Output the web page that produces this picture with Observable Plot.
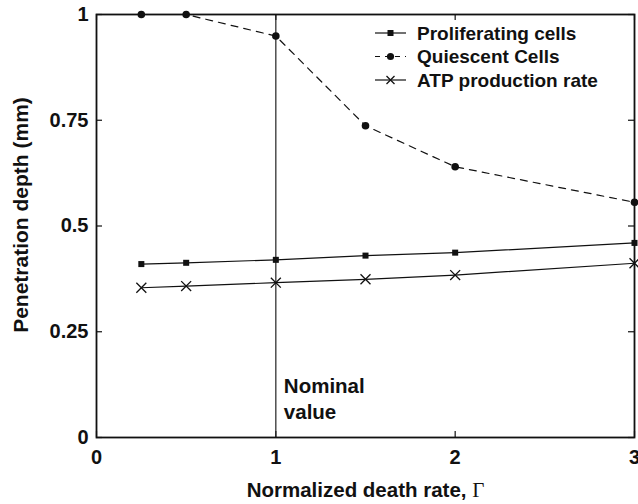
<!DOCTYPE html>
<html><head><meta charset="utf-8">
<script src="https://cdn.jsdelivr.net/npm/d3@7"></script>
<script src="https://cdn.jsdelivr.net/npm/@observablehq/plot@0.6"></script>
<style>
body{margin:0;background:#fff;}
svg{font-family:"Liberation Sans",Arial,sans-serif;}
</style></head>
<body><div id="chart"></div>
<script>
const gamma = [0.25, 0.5, 1, 1.5, 2, 3];
const proliferating = [0.410, 0.413, 0.420, 0.430, 0.437, 0.460];
const quiescent = [1.0, 1.0, 0.949, 0.737, 0.640, 0.556];
const atp = [0.354, 0.358, 0.366, 0.374, 0.384, 0.412];
const seriesNames = ["Proliferating cells", "Quiescent Cells", "ATP production rate"];
const xTicks = [0, 1, 2, 3];
const xTickLabels = ["0", "1", "2", "3"];
const yTicks = [0, 0.25, 0.5, 0.75, 1];
const yTickLabels = ["0", "0.25", "0.5", "0.75", "1"];
const nominal = [{x: 1, text: "Nominal\nvalue"}];
const xLabel = "Normalized death rate, ";
const yLabel = "Penetration depth (mm)";

const toRows = (vals) => gamma.map((g, i) => ({x: g, y: vals[i]}));
const P = toRows(proliferating), Q = toRows(quiescent), A = toRows(atp);

const W = 638, H = 504, ML = 96, MR = 4, MT = 14, MB = 67, TL = 6;
const innerW = W - ML - MR, innerH = H - MT - MB;

const chart = Plot.plot({
  width: W, height: H,
  marginLeft: ML, marginRight: MR, marginTop: MT, marginBottom: MB,
  style: {fontFamily: '"Liberation Sans", Arial, sans-serif', background: "#fff", color: "#111"},
  x: {domain: [0, 3], ticks: xTicks},
  y: {domain: [0, 1], ticks: yTicks},
  marks: [
    // inward tick marks on all four sides
    Plot.tickY(yTicks, {y: d => d, insetRight: innerW - TL, stroke: "#111", strokeWidth: 1.2}),
    Plot.tickY(yTicks, {y: d => d, insetLeft: innerW - TL, stroke: "#111", strokeWidth: 1.2}),
    Plot.tickX(xTicks, {x: d => d, insetTop: innerH - TL, stroke: "#111", strokeWidth: 1.2}),
    Plot.tickX(xTicks, {x: d => d, insetBottom: innerH - TL, stroke: "#111", strokeWidth: 1.2}),
    Plot.ruleX(nominal, {x: "x", stroke: "#222", strokeWidth: 1.2}),
    Plot.line(Q, {x: "x", y: "y", stroke: "#111", strokeWidth: 1.2, strokeDasharray: "7,6"}),
    Plot.line(P, {x: "x", y: "y", stroke: "#111", strokeWidth: 1.2}),
    Plot.line(A, {x: "x", y: "y", stroke: "#111", strokeWidth: 1.2}),
    Plot.dot(Q, {x: "x", y: "y", r: 3.8, fill: "#111", symbol: "circle"}),
    Plot.dot(P, {x: "x", y: "y", r: 3.4, fill: "#111", symbol: "square"}),
    Plot.dot(A, {x: "x", y: "y", r: 4.6, stroke: "#111", strokeWidth: 1.3, symbol: "times"}),
    Plot.frame({stroke: "#111", strokeWidth: 1.8}),
    Plot.axisY({anchor: "left", ticks: yTicks, tickFormat: (d, i) => yTickLabels[i], tickSize: 0, tickPadding: 8, fontSize: 20, fontWeight: "bold", label: null}),
    Plot.axisX({anchor: "bottom", ticks: xTicks, tickFormat: (d, i) => xTickLabels[i], tickSize: 0, tickPadding: 12, fontSize: 20, fontWeight: "bold", label: null}),
    Plot.text(nominal, {x: "x", text: "text", frameAnchor: "bottom", dx: 8, dy: -19, textAnchor: "start", lineAnchor: "bottom", fontSize: 20.5, fontWeight: "bold", fill: "#111", lineHeight: 1.25}),
    Plot.text([xLabel], {frameAnchor: "bottom", dy: 59, lineAnchor: "bottom", textAnchor: "middle", fontSize: 20.5, fontWeight: "bold", fill: "#111", className: "xlab"}),
    Plot.text([yLabel], {frameAnchor: "left", dx: -75, dy: -11, rotate: -90, textAnchor: "middle", fontSize: 21, fontWeight: "bold", fill: "#111"})
  ]
});

// add Gamma in serif to x label
d3.select(chart).selectAll(".xlab text").each(function() {
  d3.select(this).append("tspan").attr("font-family", '"Liberation Serif", "DejaVu Serif", serif').attr("font-weight", "normal").attr("font-size", 21).text("Γ");
});

// legend
const svg = d3.select(chart);
const lg = svg.append("g").attr("font-family", '"Liberation Sans", Arial, sans-serif').attr("font-weight", "bold").attr("font-size", 19).attr("fill", "#111").attr("text-anchor", "start");
const legendItems = [
  {name: seriesNames[0], dash: null, sym: "square"},
  {name: seriesNames[1], dash: "5,5", sym: "circle"},
  {name: seriesNames[2], dash: null, sym: "times"}
];
legendItems.forEach((it, i) => {
  const y = 33 + i * 23.5;
  lg.append("line").attr("x1", 375).attr("x2", 406).attr("y1", y).attr("y2", y).attr("stroke", "#111").attr("stroke-width", 1.2).attr("stroke-dasharray", it.dash);
  const cx = 390.5;
  if (it.sym === "square") lg.append("rect").attr("x", cx - 3).attr("y", y - 3).attr("width", 6).attr("height", 6).attr("fill", "#111");
  if (it.sym === "circle") lg.append("circle").attr("cx", cx).attr("cy", y).attr("r", 3.6).attr("fill", "#111");
  if (it.sym === "times") lg.append("path").attr("d", `M${cx-4},${y-4}L${cx+4},${y+4}M${cx-4},${y+4}L${cx+4},${y-4}`).attr("stroke", "#111").attr("stroke-width", 1.3);
  lg.append("text").attr("x", 417).attr("y", y).attr("dy", "0.36em").text(it.name);
});

document.getElementById("chart").appendChild(chart);
</script></body></html>
